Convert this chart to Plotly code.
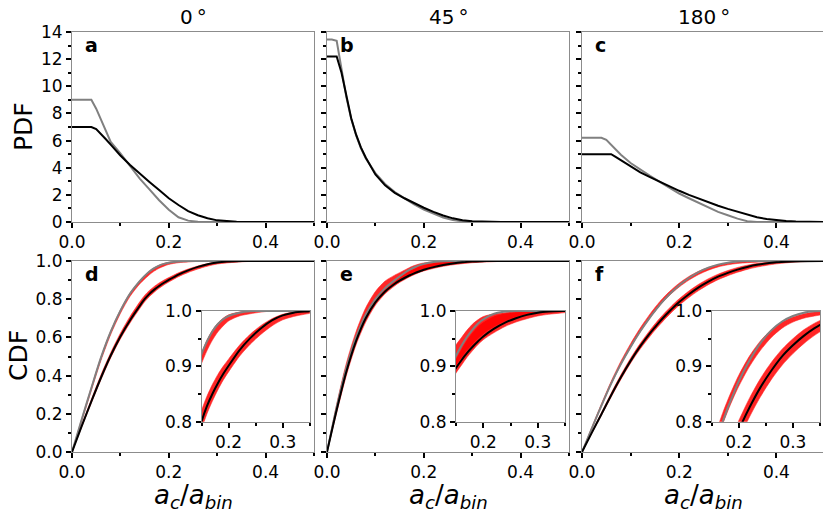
import plotly.graph_objects as go

# ---------------- DATA ----------------
PANEL_TITLES = ["0\u2009°", "45\u2009°", "180\u2009°"]
PANEL_LETTERS = ["a", "b", "c", "d", "e", "f"]

# PDF (top row)
X_PDF = [0, 0.01, 0.02, 0.03, 0.04, 0.05, 0.06, 0.07, 0.08, 0.10, 0.12, 0.14, 0.16, 0.18,
         0.20, 0.22, 0.24, 0.26, 0.28, 0.30, 0.32, 0.34, 0.36, 0.38, 0.40, 0.42, 0.44, 0.46,
         0.48, 0.50]
pdf_black_0 = [7.0, 7.0, 7.0, 7.0, 7.0, 6.85, 6.5, 6.1, 5.7, 4.9, 4.2, 3.55, 2.95, 2.35,
               1.75, 1.25, 0.8, 0.5, 0.28, 0.12, 0.05, 0.02, 0, 0, 0, 0, 0, 0, 0, 0]
pdf_gray_0 = [9.0, 9.0, 9.0, 9.0, 9.0, 8.35, 7.5, 6.7, 5.9, 5.05, 4.1, 3.2, 2.4, 1.6,
              0.9, 0.35, 0.1, 0.02, 0, 0, 0, 0, 0, 0, 0, 0, 0, 0, 0, 0]
pdf_black_45 = [12.2, 12.2, 12.2, 11.0, 9.25, 7.65, 6.45, 5.5, 4.75, 3.5, 2.7, 2.15, 1.75, 1.38,
                1.05, 0.75, 0.48, 0.27, 0.13, 0.05, 0.02, 0, 0, 0, 0, 0, 0, 0, 0, 0]
pdf_gray_45 = [13.45, 13.45, 13.35, 11.2, 9.2, 7.6, 6.4, 5.45, 4.7, 3.6, 2.8, 2.2, 1.72, 1.3,
               0.92, 0.6, 0.33, 0.14, 0.05, 0.02, 0, 0, 0, 0, 0, 0, 0, 0, 0, 0]
pdf_black_180 = [5.0, 5.0, 5.0, 5.0, 5.0, 5.0, 5.0, 4.78, 4.55, 4.1, 3.65, 3.3, 2.95, 2.6,
                 2.3, 2.0, 1.72, 1.45, 1.2, 0.97, 0.75, 0.52, 0.35, 0.22, 0.12, 0.07, 0.03, 0.01,
                 0, 0]
pdf_gray_180 = [6.2, 6.2, 6.2, 6.2, 6.2, 6.05, 5.7, 5.3, 4.95, 4.35, 3.85, 3.4, 2.95, 2.5,
                2.1, 1.75, 1.4, 1.05, 0.75, 0.5, 0.25, 0.06, 0, 0, 0, 0, 0, 0, 0, 0]

# CDF (bottom row)
X_CDF = [0, 0.02, 0.04, 0.06, 0.08, 0.10, 0.12, 0.14, 0.15, 0.16, 0.17, 0.18, 0.19, 0.20,
         0.22, 0.24, 0.26, 0.28, 0.30, 0.32, 0.34, 0.36, 0.40, 0.45, 0.50]

cdf_gray_0 = [0, 0.17, 0.335, 0.495, 0.63, 0.74, 0.83, 0.895, 0.922, 0.945, 0.963, 0.976, 0.985,
              0.991, 0.997, 0.9995, 1, 1, 1, 1, 1, 1, 1, 1, 1]
cdf_gray_0_lo = [0, 0.16, 0.322, 0.48, 0.615, 0.725, 0.815, 0.88, 0.905, 0.928, 0.947, 0.962,
                 0.973, 0.982, 0.991, 0.995, 0.998, 1.0, 1, 1, 1, 1, 1, 1, 1]
cdf_gray_0_hi = [0, 0.173, 0.339, 0.499, 0.634, 0.744, 0.833, 0.897, 0.924, 0.947, 0.965, 0.978,
                 0.987, 0.993, 0.998, 1.0, 1, 1, 1, 1, 1, 1, 1, 1, 1]
cdf_black_0 = [0, 0.135, 0.265, 0.39, 0.505, 0.605, 0.69, 0.765, 0.80, 0.828, 0.85, 0.869, 0.886,
               0.901, 0.929, 0.951, 0.969, 0.983, 0.992, 0.997, 0.999, 1.0, 1, 1, 1]
cdf_black_0_lo = [0, 0.13, 0.257, 0.38, 0.493, 0.592, 0.676, 0.751, 0.786, 0.814, 0.837, 0.857,
                  0.875, 0.89, 0.918, 0.94, 0.958, 0.973, 0.984, 0.99, 0.994, 0.997, 0.999, 1.0, 1.0]
cdf_black_0_hi = [0, 0.14, 0.275, 0.405, 0.52, 0.622, 0.71, 0.786, 0.82, 0.846, 0.867, 0.885,
                  0.9, 0.913, 0.938, 0.958, 0.974, 0.986, 0.994, 0.998, 1.0, 1, 1, 1, 1]

cdf_gray_45 = [0, 0.235, 0.44, 0.6, 0.72, 0.80, 0.858, 0.9, 0.919, 0.937, 0.953, 0.966, 0.977,
               0.985, 0.995, 0.999, 1, 1, 1, 1, 1, 1, 1, 1, 1]
cdf_gray_45_lo = [0, 0.225, 0.425, 0.585, 0.705, 0.788, 0.845, 0.886, 0.902, 0.916, 0.929, 0.94,
                  0.95, 0.959, 0.972, 0.982, 0.989, 0.994, 0.997, 0.999, 1.0, 1, 1, 1, 1]
cdf_gray_45_hi = [0, 0.25, 0.465, 0.63, 0.755, 0.84, 0.895, 0.926, 0.939, 0.952, 0.965, 0.976,
                  0.984, 0.99, 0.995, 0.997, 0.999, 1.0, 1, 1, 1, 1, 1, 1, 1]
cdf_black_45 = [0, 0.22, 0.42, 0.58, 0.70, 0.783, 0.84, 0.881, 0.897, 0.911, 0.924, 0.935, 0.945,
                0.954, 0.968, 0.979, 0.987, 0.993, 0.997, 0.999, 1.0, 1, 1, 1, 1]
cdf_black_45_lo = [0, 0.205, 0.4, 0.56, 0.68, 0.768, 0.828, 0.87, 0.888, 0.902, 0.916, 0.928,
                   0.939, 0.948, 0.961, 0.972, 0.98, 0.986, 0.991, 0.994, 0.996, 0.998, 0.999,
                   1.0, 1.0]
cdf_black_45_hi = [0, 0.23, 0.435, 0.595, 0.715, 0.795, 0.853, 0.895, 0.914, 0.932, 0.948, 0.961,
                   0.972, 0.98, 0.991, 0.996, 0.998, 0.999, 1.0, 1, 1, 1, 1, 1, 1]

cdf_gray_180 = [0, 0.122, 0.243, 0.358, 0.46, 0.55, 0.632, 0.705, 0.738, 0.77, 0.799, 0.826,
                0.85, 0.873, 0.911, 0.942, 0.965, 0.981, 0.991, 0.997, 0.9995, 1.0, 1, 1, 1]
cdf_gray_180_lo = [0, 0.12, 0.24, 0.355, 0.458, 0.548, 0.63, 0.703, 0.736, 0.767, 0.795, 0.82,
                   0.843, 0.864, 0.9, 0.929, 0.952, 0.969, 0.98, 0.987, 0.991, 0.994, 0.998,
                   1.0, 1.0]
cdf_gray_180_hi = [0, 0.128, 0.252, 0.37, 0.475, 0.567, 0.65, 0.723, 0.756, 0.787, 0.815, 0.84,
                   0.863, 0.884, 0.919, 0.946, 0.966, 0.98, 0.989, 0.995, 0.998, 0.999, 1.0, 1, 1]
cdf_black_180 = [0, 0.1, 0.198, 0.297, 0.391, 0.477, 0.554, 0.622, 0.653, 0.683, 0.711, 0.737,
                 0.762, 0.785, 0.826, 0.862, 0.892, 0.918, 0.938, 0.955, 0.969, 0.98, 0.993,
                 0.999, 1.0]
cdf_black_180_lo = [0, 0.097, 0.192, 0.288, 0.38, 0.465, 0.54, 0.606, 0.637, 0.666, 0.694, 0.72,
                    0.745, 0.768, 0.809, 0.845, 0.876, 0.902, 0.923, 0.941, 0.956, 0.968, 0.985,
                    0.996, 0.999]
cdf_black_180_hi = [0, 0.104, 0.206, 0.308, 0.404, 0.491, 0.569, 0.638, 0.67, 0.7, 0.728, 0.754,
                    0.779, 0.802, 0.843, 0.878, 0.907, 0.931, 0.95, 0.966, 0.978, 0.987, 0.996,
                    1.0, 1.0]

# ---------------- LAYOUT ----------------
W, H = 831, 513
OFF = 8  # page body margin in the browser
FONT = "DejaVu Sans"
GRAY = "#808080"
RED_FILL = "rgba(255,0,0,0.85)"
RED_EDGE = "rgba(255,40,40,0.55)"
FRAME = "#8c8c8c"


def fx(p):
    return (p - OFF) / W


def fy(p):
    return 1 - (p - OFF) / H


COLS = [(72, 314), (327, 569), (582, 825)]
TOP_ROW = (32, 222)
BOT_ROW = (261, 452)
INSETS_X = [(201.5, 309.8), (456, 565), (711.7, 820)]
INSET_Y = (311, 421.7)

fig = go.Figure()
layout = dict(
    width=W, height=H, margin=dict(l=0, r=0, t=0, b=0, pad=0, autoexpand=False),
    paper_bgcolor="white", plot_bgcolor="white", showlegend=False,
    font=dict(family=FONT, color="black", size=17),
)


def axis_common(**kw):
    d = dict(
        ticks="outside", ticklen=5, tickwidth=2, tickcolor="black", automargin=False,
        showline=True, linecolor=FRAME, linewidth=1, mirror=True,
        showgrid=False, zeroline=False, tickfont=dict(size=17, family=FONT, color="black"),
    )
    d.update(kw)
    return d


def minor(dt, t0=0):
    return dict(dtick=dt, tick0=t0, ticks="outside", ticklen=3, tickwidth=2, tickcolor="black")


pdf_sets = [(pdf_gray_0, pdf_black_0), (pdf_gray_45, pdf_black_45), (pdf_gray_180, pdf_black_180)]
cdf_sets = [
    (cdf_gray_0, cdf_gray_0_lo, cdf_gray_0_hi, cdf_black_0, cdf_black_0_lo, cdf_black_0_hi),
    (cdf_gray_45, cdf_gray_45_lo, cdf_gray_45_hi, cdf_black_45, cdf_black_45_lo, cdf_black_45_hi),
    (cdf_gray_180, cdf_gray_180_lo, cdf_gray_180_hi, cdf_black_180, cdf_black_180_lo, cdf_black_180_hi),
]


def add_cdf_traces(xa, ya, data):
    g, glo, ghi, b, blo, bhi = data
    for lo, hi in ((glo, ghi), (blo, bhi)):
        fig.add_trace(go.Scatter(x=X_CDF, y=lo, xaxis=xa, yaxis=ya, mode="lines",
                                 line=dict(color=RED_EDGE, width=1, shape="spline", smoothing=0.8),
                                 hoverinfo="skip"))
        fig.add_trace(go.Scatter(x=X_CDF, y=hi, xaxis=xa, yaxis=ya, mode="lines", fill="tonexty",
                                 fillcolor=RED_FILL,
                                 line=dict(color=RED_EDGE, width=1, shape="spline", smoothing=0.8),
                                 hoverinfo="skip"))
    fig.add_trace(go.Scatter(x=X_CDF, y=g, xaxis=xa, yaxis=ya, mode="lines",
                             line=dict(color=GRAY, width=2, shape="spline", smoothing=0.8)))
    fig.add_trace(go.Scatter(x=X_CDF, y=b, xaxis=xa, yaxis=ya, mode="lines",
                             line=dict(color="black", width=2, shape="spline", smoothing=0.8)))


for c in range(3):
    x0, x1 = COLS[c]
    it, ib, ii = c + 1, c + 4, c + 7
    nt = "" if it == 1 else str(it)
    layout["xaxis" + nt] = axis_common(domain=[fx(x0), fx(x1)], anchor="y" + nt, range=[0, 0.5],
                                       dtick=0.2, tick0=0, tickformat=".1f", minor=minor(0.1))
    layout["yaxis" + nt] = axis_common(domain=[fy(TOP_ROW[1]), fy(TOP_ROW[0])], anchor="x" + nt,
                                       range=[0, 14], dtick=2, tick0=0, minor=minor(1),
                                       showticklabels=(c == 0))
    nb = str(ib)
    layout["xaxis" + nb] = axis_common(domain=[fx(x0), fx(x1)], anchor="y" + nb, range=[0, 0.5],
                                       dtick=0.2, tick0=0, tickformat=".1f", minor=minor(0.1))
    layout["yaxis" + nb] = axis_common(domain=[fy(BOT_ROW[1]), fy(BOT_ROW[0])], anchor="x" + nb,
                                       range=[0, 1], dtick=0.2, tick0=0, tickformat=".1f",
                                       minor=minor(0.1), showticklabels=(c == 0))
    ni = str(ii)
    ix0, ix1 = INSETS_X[c]
    layout["xaxis" + ni] = axis_common(domain=[fx(ix0), fx(ix1)], anchor="y" + ni,
                                       range=[0.15, 0.35], dtick=0.1, tick0=0, tickformat=".1f",
                                       minor=minor(0.05))
    layout["yaxis" + ni] = axis_common(domain=[fy(INSET_Y[1]), fy(INSET_Y[0])], anchor="x" + ni,
                                       range=[0.8, 1.0], dtick=0.1, tick0=0, tickformat=".1f",
                                       minor=minor(0.05))

    g, b = pdf_sets[c]
    fig.add_trace(go.Scatter(x=X_PDF, y=g, xaxis="x" + nt, yaxis="y" + nt, mode="lines",
                             line=dict(color=GRAY, width=2)))
    fig.add_trace(go.Scatter(x=X_PDF, y=b, xaxis="x" + nt, yaxis="y" + nt, mode="lines",
                             line=dict(color="black", width=2)))
    add_cdf_traces("x" + nb, "y" + nb, cdf_sets[c])
    add_cdf_traces("x" + ni, "y" + ni, cdf_sets[c])

annotations = []
for c in range(3):
    x0, x1 = COLS[c]
    xc = (x0 + x1) / 2
    annotations.append(dict(text=PANEL_TITLES[c], x=fx(xc), y=fy(17), xref="paper", yref="paper",
                            xanchor="center", yanchor="middle", showarrow=False,
                            font=dict(size=20, family=FONT, color="black")))
    annotations.append(dict(text="<i>a</i><sub><i>c</i></sub>/<i>a</i><sub><i>bin</i></sub>",
                            x=fx(xc), y=fy(496), xref="paper", yref="paper",
                            xanchor="center", yanchor="middle", showarrow=False,
                            font=dict(size=26, family=FONT, color="black")))
    annotations.append(dict(text="<b>" + PANEL_LETTERS[c] + "</b>", x=fx(x0 + 11), y=fy(45),
                            xref="paper", yref="paper", xanchor="left", yanchor="middle",
                            showarrow=False, font=dict(size=19, family=FONT, color="black")))
    annotations.append(dict(text="<b>" + PANEL_LETTERS[c + 3] + "</b>", x=fx(x0 + 11), y=fy(274),
                            xref="paper", yref="paper", xanchor="left", yanchor="middle",
                            showarrow=False, font=dict(size=19, family=FONT, color="black")))

annotations.append(dict(text="PDF", x=fx(24), y=fy(127), xref="paper", yref="paper",
                        xanchor="center", yanchor="middle", textangle=-90, showarrow=False,
                        font=dict(size=25, family=FONT, color="black")))
annotations.append(dict(text="CDF", x=fx(18), y=fy(356), xref="paper", yref="paper",
                        xanchor="center", yanchor="middle", textangle=-90, showarrow=False,
                        font=dict(size=25, family=FONT, color="black")))
layout["annotations"] = annotations

fig.update_layout(**layout)
fig.write_html("out.html")
